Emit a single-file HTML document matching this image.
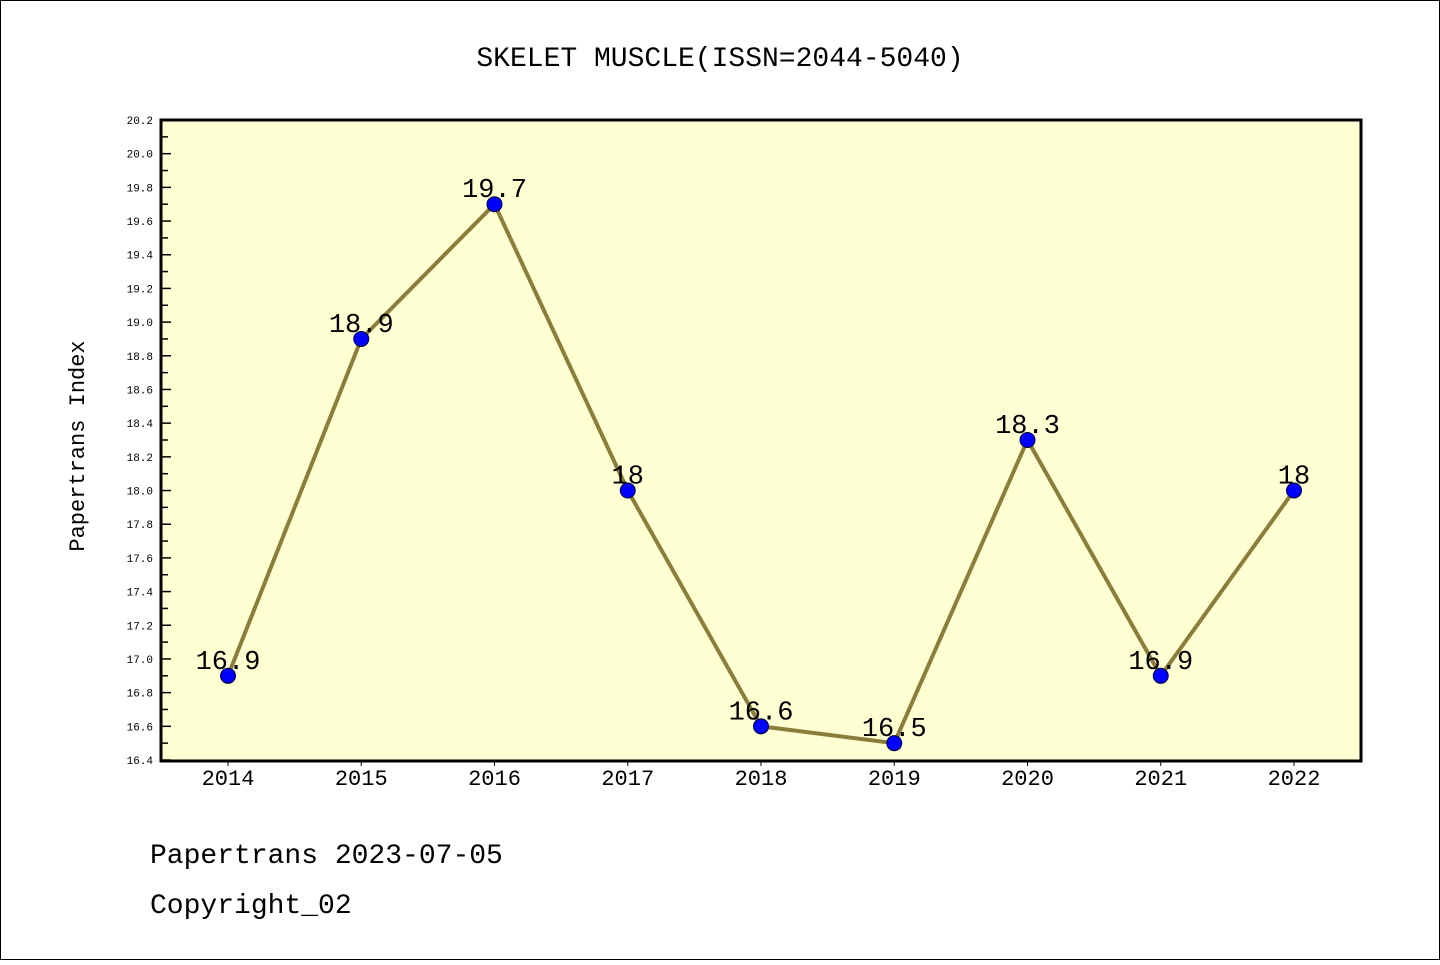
<!DOCTYPE html>
<html><head><meta charset="utf-8"><style>
body{margin:0;background:#fff}
svg text{font-family:"Liberation Mono","DejaVu Sans Mono",monospace}
</style></head><body>
<svg width="1440" height="960" xmlns="http://www.w3.org/2000/svg">
<rect x="0.5" y="0.5" width="1439" height="959" fill="#fff" stroke="#000"/>
<text x="720" y="66" text-anchor="middle" font-size="28">SKELET MUSCLE(ISSN=2044-5040)</text>
<rect x="161" y="120" width="1200" height="641" fill="#ffffd4" stroke="#000" stroke-width="3"/>
<g id="axes"></g>
<g id="series"></g>
<text transform="translate(84,446) rotate(-90)" text-anchor="middle" font-size="22">Papertrans Index</text>
<text x="150" y="863" font-size="28">Papertrans 2023-07-05</text>
<text x="150" y="913" font-size="28">Copyright_02</text>
</svg>
<script>
const years=[2014,2015,2016,2017,2018,2019,2020,2021,2022];
const values=[16.9,18.9,19.7,18,16.6,16.5,18.3,16.9,18];
const labels=["16.9","18.9","19.7","18","16.6","16.5","18.3","16.9","18"];
const yTicks=[16.4,16.6,16.8,17.0,17.2,17.4,17.6,17.8,18.0,18.2,18.4,18.6,18.8,19.0,19.2,19.4,19.6,19.8,20.0,20.2];
const NS="http://www.w3.org/2000/svg";
const yMin=16.4,yMax=20.2,yTop=120,yBot=760;
const y=v=>yBot-(v-yMin)/(yMax-yMin)*(yBot-yTop);
const x=i=>228+i*(1294-228)/(years.length-1);
function mk(t,a,p){const e=document.createElementNS(NS,t);for(const k in a)e.setAttribute(k,a[k]);p.appendChild(e);return e;}
const ax=document.getElementById('axes'),se=document.getElementById('series');
yTicks.forEach((v,i)=>{
 const l=mk('line',{x1:161,x2:171,y1:y(v),y2:y(v),stroke:'#000','stroke-width':1.5},ax);
 
 
 if(i<yTicks.length-1){const m=mk('line',{x1:161,x2:168,y1:y(v+0.1),y2:y(v+0.1),stroke:'#000','stroke-width':1.5},ax);
 
 }
 const t=mk('text',{x:153,y:y(v)+4,'text-anchor':'end','font-size':11},ax);t.textContent=v.toFixed(1);
 
 
});
years.forEach((yr,i)=>{
 const l=mk('line',{x1:x(i),x2:x(i),y1:761,y2:766,stroke:'#000','stroke-width':1},ax);
 
 
 const t=mk('text',{x:x(i),y:785,'text-anchor':'middle','font-size':22},ax);t.textContent=yr;
 
 
});
const pl=mk('polyline',{points:values.map((v,i)=>x(i)+','+y(v)).join(' '),fill:'none',stroke:'#8b7d3a','stroke-width':4},se);


values.forEach((v,i)=>{
 const c=mk('circle',{cx:x(i),cy:y(v),r:7.5,fill:'#0000ff',stroke:'#000033','stroke-width':1},se);
 
 
 const t=mk('text',{x:x(i),y:y(v)-7,'text-anchor':'middle','font-size':27},se);t.textContent=labels[i];
 
 
});
</script>
</body></html>
